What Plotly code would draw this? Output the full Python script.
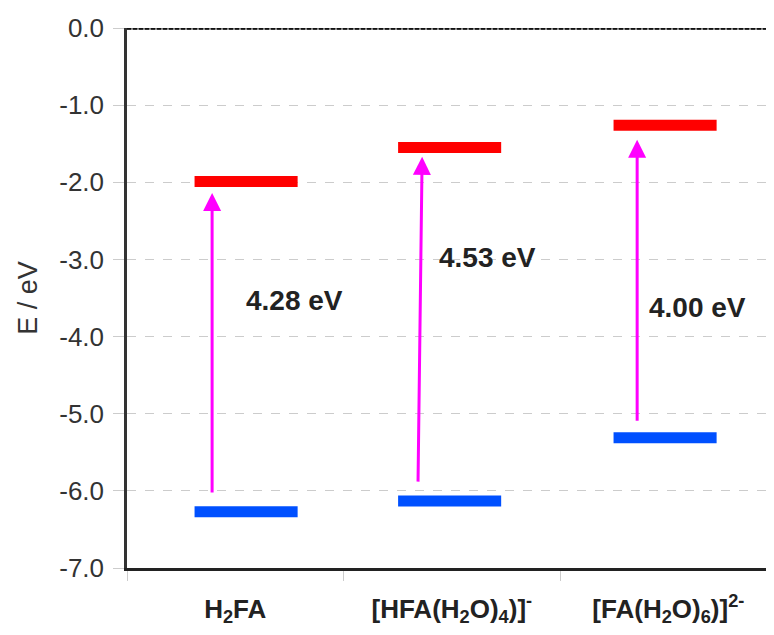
import plotly.graph_objects as go

# ---- data ----
categories = ["H<sub>2</sub>FA", "[HFA(H<sub>2</sub>O)<sub>4</sub>)]<sup>-</sup>", "[FA(H<sub>2</sub>O)<sub>6</sub>)]<sup>2-</sup>"]
lumo = [-1.99, -1.55, -1.26]
homo = [-6.27, -6.13, -5.31]
gap_labels = ["4.28 eV", "4.53 eV", "4.00 eV"]
arrow_start = [-6.04, -5.90, -5.11]
arrow_end = [-2.14, -1.67, -1.45]
y_ticks = [0, -1, -2, -3, -4, -5, -6, -7]
y_tick_text = ["0.0", "-1.0", "-2.0", "-3.0", "-4.0", "-5.0", "-6.0", "-7.0"]

# ---- style / placement ----
bar_shift = [0.05, -0.01, -0.015]
half_w = 0.238
arrow_x0 = [-0.107, 0.844, 1.856]
arrow_x1 = [-0.107, 0.863, 1.856]
label_x = [0.275, 1.165, 2.135]
label_y = [-3.53, -2.97, -3.62]

fig = go.Figure()
for i in range(len(categories)):
    c = i + bar_shift[i]
    fig.add_trace(go.Scatter(x=[c - half_w, c + half_w], y=[lumo[i], lumo[i]], mode="lines",
                             line=dict(color="#ff0000", width=11), showlegend=False, hoverinfo="skip"))
    fig.add_trace(go.Scatter(x=[c - half_w, c + half_w], y=[homo[i], homo[i]], mode="lines",
                             line=dict(color="#0050ff", width=11), showlegend=False, hoverinfo="skip"))
    fig.add_annotation(x=arrow_x1[i], y=arrow_end[i], ax=arrow_x0[i], ay=arrow_start[i],
                       xref="x", yref="y", axref="x", ayref="y", text="",
                       showarrow=True, arrowhead=2, arrowsize=1.2, arrowwidth=3, arrowcolor="#ff00ff")
    fig.add_annotation(x=label_x[i], y=label_y[i], xref="x", yref="y", text="<b>%s</b>" % gap_labels[i],
                       showarrow=False, font=dict(family="Liberation Sans, Arial", size=28, color="#222222"))

# top border line
fig.add_shape(type="line", xref="paper", yref="y", x0=0, x1=1, y0=0, y1=0,
              line=dict(color="#777777", width=3.5))
fig.add_shape(type="line", xref="paper", yref="y", x0=0, x1=1, y0=0, y1=0,
              line=dict(color="#111111", width=3.5, dash="4px,2px"))

fig.update_layout(
    width=766, height=627,
    margin=dict(l=119, r=0, t=20, b=67),
    plot_bgcolor="white", paper_bgcolor="white",
    font=dict(family="Liberation Sans, Arial", color="#333333"),
    xaxis=dict(range=[-0.5, 2.488], tickvals=[0, 1, 2], ticktext=["<b>%s</b>" % c for c in categories],
               ticks="", showgrid=False, zeroline=False, showline=True, linecolor="#222222", linewidth=2.5,
               tickfont=dict(size=26, color="#222222"), ticklabelstandoff=16,
               minor=dict(tickvals=[-0.5, 0.5, 1.5], ticks="outside", ticklen=10, tickcolor="#cccccc", tickwidth=1,
                          showgrid=False)),
    yaxis=dict(range=[-7, 0], tickvals=y_ticks, ticktext=y_tick_text, ticks="outside", ticklen=11,
               tickcolor="#cccccc", showgrid=True, gridcolor="#cccccc", griddash="dash", zeroline=False,
               showline=True, linecolor="#333333", linewidth=2.5, tickfont=dict(size=26, color="#333333"),
               ticklabelstandoff=4,
               title=dict(text="E / eV", font=dict(size=27, color="#333333"), standoff=14)),
)

fig.write_html("out.html")
